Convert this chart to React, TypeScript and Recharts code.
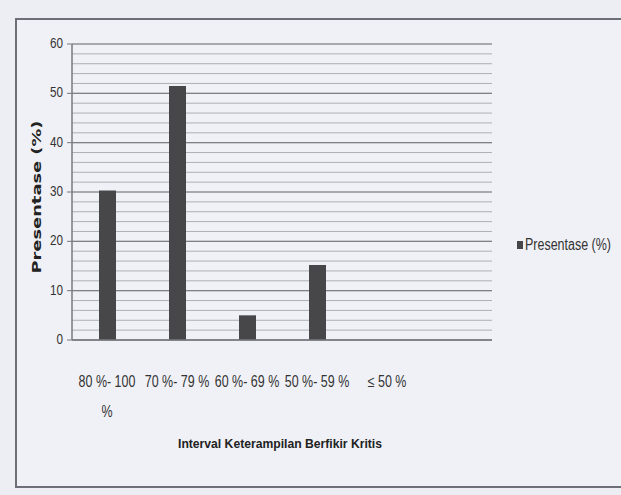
import React from 'react';
import {
  BarChart,
  Bar,
  XAxis,
  YAxis,
  CartesianGrid,
  Legend,
  Label,
} from 'recharts';

const categories = ['80 %- 100 %', '70 %- 79 %', '60 %- 69 %', '50 %- 59 %', '≤ 50 %', ''];
const presentase = [30.3, 51.5, 5, 15.2, null, null];
const majorTicks = [0, 10, 20, 30, 40, 50, 60];
const minorTicks = [
  0, 2, 4, 6, 8, 10, 12, 14, 16, 18, 20, 22, 24, 26, 28, 30,
  32, 34, 36, 38, 40, 42, 44, 46, 48, 50, 52, 54, 56, 58, 60,
];

const data = categories.map((c, i) => ({ interval: c, Presentase: presentase[i] }));

const FONT = "'Liberation Sans', Arial, sans-serif";
const BAR_COLOR = '#47474a';
const SQUEEZE = 0.78; // no narrow font installed, so squeeze horizontally

// long labels wrap their last word onto a second line, like the original
const CategoryTick = (props: any) => {
  const { x, y, payload } = props;
  const value: string = payload.value || '';
  const words = value.split(' ');
  const lines = value.length > 10 ? [words.slice(0, -1).join(' '), words[words.length - 1]] : [value];
  return (
    <g>
      {lines.map((line, i) => (
        <text
          key={i}
          transform={`translate(${x} ${y + 35 + i * 30}) scale(${SQUEEZE} 1)`}
          textAnchor="middle"
          dominantBaseline="middle"
          fontFamily={FONT}
          fontSize={16}
          fill="#333"
        >
          {line}
        </text>
      ))}
    </g>
  );
};

const ValueTick = (props: any) => {
  const { x, y, payload } = props;
  return (
    <text
      transform={`translate(${x - 2} ${y}) scale(${SQUEEZE} 1)`}
      textAnchor="end"
      dominantBaseline="middle"
      fontFamily={FONT}
      fontSize={15}
      fill="#333"
    >
      {payload.value}
    </text>
  );
};

const LegendBox = (props: any) => {
  const items = props.payload || [];
  return (
    <div style={{ fontFamily: FONT, fontSize: 16, color: '#333', whiteSpace: 'nowrap' }}>
      {items.map((it: any) => (
        <div key={it.value} style={{ display: 'flex', alignItems: 'center' }}>
          <span
            style={{
              flexShrink: 0,
              width: 6,
              height: 8,
              background: BAR_COLOR,
              display: 'inline-block',
              marginRight: 2,
            }}
          />
          <span
            style={{
              flexShrink: 0,
              display: 'inline-block',
              transform: `scaleX(${SQUEEZE})`,
              transformOrigin: 'left center',
            }}
          >
            {it.value}
          </span>
        </div>
      ))}
    </div>
  );
};

function App() {
  return (
    <div
      style={{
        position: 'absolute',
        left: 0,
        top: 0,
        width: 621,
        height: 495,
        background: '#eceef4',
        overflow: 'hidden',
      }}
    >
      <div
        style={{
          position: 'absolute',
          left: 15,
          top: 18,
          width: 640,
          height: 470,
          border: '2px solid #6d6f78',
          boxSizing: 'border-box',
          background: '#f0f1f6',
        }}
      />
      <div style={{ position: 'absolute', left: 0, top: 0 }}>
        <BarChart
          width={621}
          height={495}
          data={data}
          margin={{ top: 44, right: 29, left: 0, bottom: 95 }}
        >
          <CartesianGrid vertical={false} horizontalValues={minorTicks} stroke="#aeafb4" strokeWidth={1} />
          <CartesianGrid vertical={false} stroke="#808187" strokeWidth={1.2} />
          <XAxis
            dataKey="interval"
            height={60}
            interval={0}
            tick={<CategoryTick />}
            tickLine={false}
            axisLine={{ stroke: '#77787e', strokeWidth: 1.5 }}
          >
            <Label
              content={(p: any) => {
                const vb = p.viewBox;
                return (
                  <text
                    x={vb.x + vb.width / 2 - 2}
                    y={vb.y + 105}
                    textAnchor="middle"
                    dominantBaseline="middle"
                    fontFamily={FONT}
                    fontWeight="bold"
                    fontSize={12}
                    fill="#222"
                    textLength={204}
                    lengthAdjust="spacingAndGlyphs"
                  >
                    Interval Keterampilan Berfikir Kritis
                  </text>
                );
              }}
            />
          </XAxis>
          <YAxis
            width={72}
            domain={[0, 60]}
            ticks={majorTicks}
            interval={0}
            tickSize={5}
            tickLine={{ stroke: '#77787e' }}
            axisLine={{ stroke: '#77787e', strokeWidth: 1.5 }}
            tick={<ValueTick />}
          >
            <Label
              content={(p: any) => {
                const vb = p.viewBox;
                const cx = vb.x + 37;
                const cy = vb.y + vb.height / 2 + 5;
                return (
                  <text
                    x={cx}
                    y={cy}
                    transform={`rotate(-90 ${cx} ${cy})`}
                    textAnchor="middle"
                    dominantBaseline="middle"
                    fontFamily="'DejaVu Sans', sans-serif"
                    fontWeight="bold"
                    fontSize={13}
                    fill="#222"
                    textLength={153}
                    lengthAdjust="spacingAndGlyphs"
                  >
                    Presentase (%)
                  </text>
                );
              }}
            />
          </YAxis>
          <Legend
            layout="vertical"
            align="right"
            verticalAlign="middle"
            width={100}
            wrapperStyle={{ left: 517, top: 236 }}
            content={<LegendBox />}
          />
          <Bar
            dataKey="Presentase"
            name="Presentase (%)"
            fill={BAR_COLOR}
            barSize={17}
            isAnimationActive={false}
          />
        </BarChart>
      </div>
    </div>
  );
}

export default App;
